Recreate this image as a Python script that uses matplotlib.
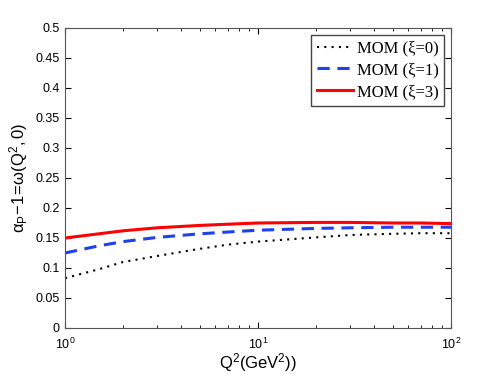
import numpy as np
import matplotlib
matplotlib.use("Agg")
import matplotlib.pyplot as plt

q2 = [1, 1.5, 2, 3, 5, 7, 10, 20, 30, 50, 70, 100]
mom_xi0 = [0.083, 0.098, 0.110, 0.120, 0.132, 0.139, 0.144, 0.151, 0.155, 0.157, 0.158, 0.158]
mom_xi1 = [0.125, 0.137, 0.144, 0.151, 0.157, 0.160, 0.163, 0.166, 0.167, 0.168, 0.168, 0.168]
mom_xi3 = [0.150, 0.157, 0.162, 0.167, 0.171, 0.173, 0.175, 0.176, 0.176, 0.175, 0.175, 0.174]
labels = ["MOM (ξ=0)", "MOM (ξ=1)", "MOM (ξ=3)"]

plt.rcParams['font.family'] = ['Liberation Sans', 'DejaVu Sans']
plt.rcParams['mathtext.fontset'] = 'custom'
plt.rcParams['mathtext.rm'] = 'Liberation Sans'
plt.rcParams['mathtext.it'] = 'Liberation Sans:italic'

fig = plt.figure(figsize=(4.98, 3.74), dpi=100)
ax = fig.add_axes([65/498, 1-328/374, 386/498, 300/374])

ax.plot(q2, mom_xi0, color='black', linestyle=(0, (1, 2.5)), lw=1.5, label=labels[0])
ax.plot(q2, mom_xi1, color='#1f3ff0', linestyle=(0, (4, 2.5)), lw=2.2, label=labels[1])
ax.plot(q2, mom_xi3, color='#ff0000', linestyle='-', lw=2.2, label=labels[2])

ax.set_xscale('log')
ax.set_xlim(1, 100)
ax.set_ylim(0, 0.5)
ax.set_yticks(np.arange(0, 0.501, 0.05))
ax.set_yticklabels(['0', '0.05', '0.1', '0.15', '0.2', '0.25', '0.3', '0.35', '0.4', '0.45', '0.5'])
ax.tick_params(which='both', direction='in', top=True, right=True, labelsize=9)
ax.tick_params(axis='y', pad=4)
ax.tick_params(axis='x', pad=6)
ax.tick_params(which='major', length=4)
ax.tick_params(which='minor', length=2)
for s in ax.spines.values():
    s.set_color('#555555')

ax.set_xlabel(r'$\mathregular{Q^2(GeV^2))}$', fontsize=12, labelpad=0)
ax.set_ylabel(r'$\mathregular{\alpha_P\!-\!1\!=\!\omega(Q^2,0)}$', fontsize=12, labelpad=4)

leg = ax.legend(loc='upper right', prop={'family': 'Liberation Serif', 'size': 12},
                fancybox=False, edgecolor='#444444', framealpha=1,
                handlelength=2.2, handletextpad=0.2, borderpad=0.35, labelspacing=0.35,
                borderaxespad=0.4)
leg.get_frame().set_linewidth(1.0)

fig.savefig('out.png', dpi=100)
